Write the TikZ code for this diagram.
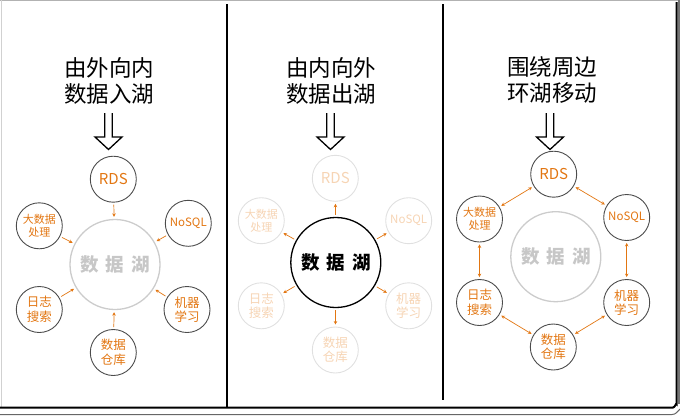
\documentclass[tikz,border=0pt]{standalone}
\usepackage{fontspec}
\newfontfamily\cjk{Noto Sans CJK SC}
\usetikzlibrary{arrows.meta}
\definecolor{org}{RGB}{226,118,18}
\definecolor{faintorg}{RGB}{246,212,180}
\tikzset{
  src/.style={circle, draw=black!70, line width=0.9pt, minimum size=46pt, inner sep=0pt,
    text=org, font=\cjk\fontsize{11}{12.5}\selectfont, align=center},
  big/.style={font=\cjk\fontsize{15}{16}\selectfont},
  mid/.style={font=\cjk\fontsize{12.5}{14.5}\selectfont},
  nosql/.style={font=\cjk\fontsize{11.5}{13}\selectfont},
  faint/.style={draw=black!12, text=faintorg},
  lake/.style={circle, draw=black!20, line width=1.3pt, minimum size=90pt, inner sep=0pt,
    text=black!22, font=\cjk\bfseries\fontsize{18.5}{20}\selectfont},
  lakeon/.style={draw=black, text=black},
  title/.style={font=\cjk\fontsize{22.5}{26}\selectfont, align=center},
  arr/.style={draw=org, line width=0.7pt, -{Stealth[length=3.5pt,width=3.5pt]},
    shorten >=2pt, shorten <=2pt},
  biarr/.style={draw=org, line width=0.7pt,
    {Stealth[length=3.5pt,width=3.5pt]}-{Stealth[length=3.5pt,width=3.5pt]},
    shorten >=2pt, shorten <=2pt},
  hollow/.pic={\draw[line width=1.3pt, line join=miter]
    (-3.75,0) -- (-3.75,24) -- (-13.5,24) -- (0,36.5) -- (13.5,24) -- (3.75,24) -- (3.75,0);}
}
\begin{document}
\begin{tikzpicture}[x=1pt,y=-1pt]
\useasboundingbox (0,0) rectangle (680,416);
% frame
\draw[black!30, line width=1pt] (0,0.5) -- (680,0.5);
\draw[black!18, line width=1pt] (1,0) -- (1,407);
\draw[line width=1.2pt] (227,4) -- (227,407);
\draw[line width=1.2pt] (443,4) -- (443,400);
\draw[line width=2pt] (0,407.5) -- (673,407.5) to[out=0,in=90] (676.5,404) -- (676.5,2);
\draw[black!55, line width=1.2pt] (679,0) -- (679,404);
\draw[black!60, line width=1pt] (0,414.5) -- (672,414.5) to[out=0,in=-135] (680,409);

% ---------- panel 1 ----------
\node[title] (t1) at (109,80.5) {由外向内\\数据入湖};
\pic at (108.5,113) {hollow};
\node[lake] (l1) at (115,264.5) {数\hspace{7pt}据\hspace{7pt}湖};
\node[src,big] (r1) at (113.3,179.2) {RDS};
\node[src] (d1) at (39.3,225.8) {大数据\\处理};
\node[src,nosql] (n1) at (188.3,223.3) {NoSQL};
\node[src,mid] (g1) at (39.3,309.5) {日志\\搜索};
\node[src,mid] (m1) at (187,309.5) {机器\\学习};
\node[src,mid] (w1) at (113.3,352.5) {数据\\仓库};
\foreach \n in {r1,d1,n1,g1,m1,w1} \draw[arr] (\n) -- (l1);

% ---------- panel 2 ----------
\node[title] (t2) at (331,80.5) {由内向外\\数据出湖};
\pic at (330.5,113) {hollow};
\node[lake,lakeon] (l2) at (335.8,262.5) {数\hspace{7pt}据\hspace{7pt}湖};
\node[src,big,faint] (r2) at (335.3,178.3) {RDS};
\node[src,faint] (d2) at (261.3,220.7) {大数据\\处理};
\node[src,nosql,faint] (n2) at (408.7,220.7) {NoSQL};
\node[src,mid,faint] (g2) at (261.3,305.8) {日志\\搜索};
\node[src,mid,faint] (m2) at (408.7,305.8) {机器\\学习};
\node[src,mid,faint] (w2) at (335.3,350) {数据\\仓库};
\foreach \n in {r2,d2,n2,g2,m2,w2} \draw[arr] (l2) -- (\n);

% ---------- panel 3 ----------
\node[title] (t3) at (552,80.5) {围绕周边\\环湖移动};
\pic at (550,113) {hollow};
\node[lake] (l3) at (555.8,256.7) {数\hspace{7pt}据\hspace{7pt}湖};
\node[src,big] (r3) at (553.7,174.2) {RDS};
\node[src] (d3) at (479.5,219) {大数据\\处理};
\node[src,nosql] (n3) at (626.7,217.5) {NoSQL};
\node[src,mid] (g3) at (479.5,302.5) {日志\\搜索};
\node[src,mid] (m3) at (626.7,302.5) {机器\\学习};
\node[src,mid] (w3) at (553.3,347) {数据\\仓库};
\draw[biarr] (r3) -- (n3);
\draw[biarr] (n3) -- (m3);
\draw[biarr] (m3) -- (w3);
\draw[biarr] (w3) -- (g3);
\draw[biarr] (g3) -- (d3);
\draw[biarr] (d3) -- (r3);
\end{tikzpicture}
\end{document}
